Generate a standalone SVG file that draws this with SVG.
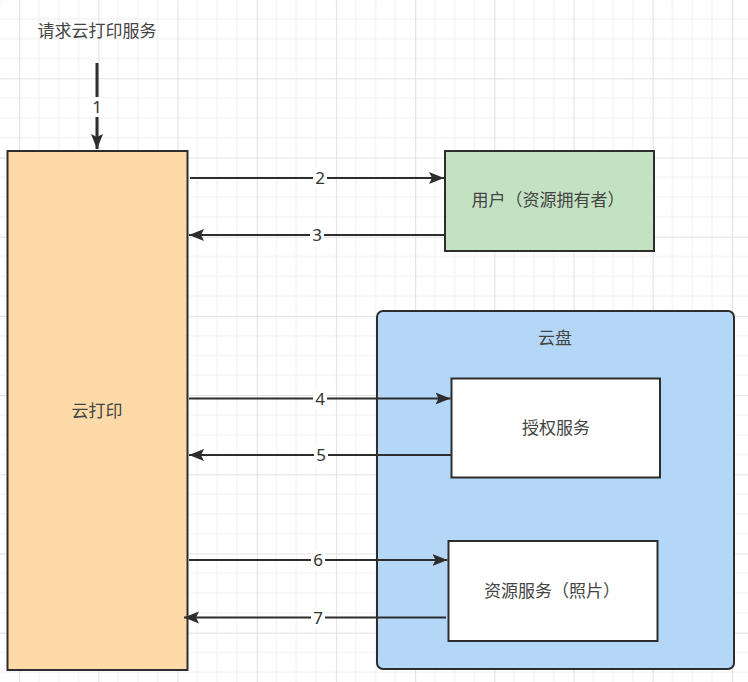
<svg xmlns="http://www.w3.org/2000/svg" width="748" height="682" viewBox="0 0 748 682">
  <defs>
    <pattern id="grid" patternUnits="userSpaceOnUse" x="19.1" y="78.3" width="79.2" height="79.2">
      <path d="M19.8 0V79.2M39.6 0V79.2M59.4 0V79.2M0 19.8H79.2M0 39.6H79.2M0 59.4H79.2" stroke="#f0f0f0" stroke-width="1" fill="none"/>
      <path d="M0.5 0V79.2M0 0.5H79.2" stroke="#e2e2e2" stroke-width="1.2" fill="none"/>
    </pattern>
    <marker id="arrow" markerUnits="userSpaceOnUse" markerWidth="16" markerHeight="13" refX="15" refY="6.5" orient="auto">
      <path d="M0 0.5L15 6.5L0 12.5L3 6.5Z" fill="#2d2d2d"/>
    </marker>
  </defs>
  <style>
    .box { stroke: #2d2d2d; stroke-width: 2; }
    .txt { font-family: "Noto Sans CJK SC", "Noto Sans", sans-serif; font-size: 17px; fill: #444; text-anchor: middle; }
    .num { font-family: "Noto Sans", "Liberation Sans", sans-serif; font-size: 17px; fill: #333; text-anchor: middle; }
    .line { stroke: #2d2d2d; stroke-width: 2; fill: none; marker-end: url(#arrow); }
    .lbg { fill: #ffffff; }
  </style>
  <rect width="748" height="682" fill="#ffffff"/>
  <rect width="748" height="682" fill="url(#grid)"/>

  <g id="request">
    <text class="txt" x="97" y="37">请求云打印服务</text>
  </g>

  <g id="cloud-print">
    <rect class="box" x="7.5" y="151" width="180" height="519" fill="#fddaa8"/>
    <text class="txt" x="97" y="417">云打印</text>
  </g>

  <g id="user">
    <rect class="box" x="445" y="151" width="209" height="100" fill="#c3e2c2"/>
    <text class="txt" x="548" y="206">用户（资源拥有者）</text>
  </g>

  <g id="cloud-disk">
    <rect class="box" x="377" y="311" width="357" height="358" rx="6" ry="6" fill="#b4d6f7"/>
    <text class="txt" x="555" y="344">云盘</text>
  </g>

  <g id="auth-service">
    <rect class="box" x="451.5" y="378.5" width="208.5" height="99" fill="#ffffff"/>
    <text class="txt" x="556" y="434">授权服务</text>
  </g>

  <g id="resource-service">
    <rect class="box" x="448.5" y="541" width="209" height="100" fill="#ffffff"/>
    <text class="txt" x="552" y="597">资源服务（照片）</text>
  </g>

  <g id="connectors">
    <path class="line" style="stroke-width:3" d="M97 63V149"/>
    <rect class="lbg" x="90" y="97" width="14" height="20"/>
    <text class="num" x="97" y="113">1</text>

    <path class="line" d="M190 178H444"/>
    <rect class="lbg" x="313" y="168" width="14" height="20"/>
    <text class="num" x="320" y="184">2</text>

    <path class="line" d="M445 235H189"/>
    <rect class="lbg" x="310" y="225" width="14" height="20"/>
    <text class="num" x="317" y="241">3</text>

    <path class="line" d="M189 398.5H450.5"/>
    <rect class="lbg" x="313" y="389" width="14" height="20"/>
    <text class="num" x="320" y="405">4</text>

    <path class="line" d="M451.5 455H189"/>
    <rect class="lbg" x="314" y="445" width="14" height="20"/>
    <text class="num" x="321" y="461">5</text>

    <path class="line" d="M189 560H447.5"/>
    <rect class="lbg" x="311" y="550" width="14" height="20"/>
    <text class="num" x="318" y="566">6</text>

    <path class="line" d="M446 617.5H184"/>
    <rect class="lbg" x="311" y="608" width="14" height="20"/>
    <text class="num" x="318" y="624">7</text>
  </g>
</svg>
